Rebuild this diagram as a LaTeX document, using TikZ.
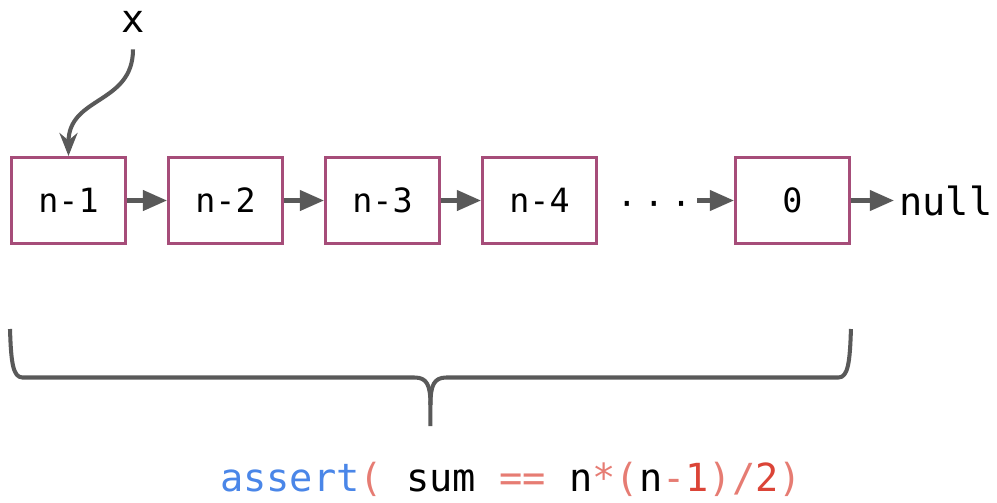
\documentclass[tikz,border=0pt]{standalone}
\usepackage{fontspec}
\setmonofont{DejaVu Sans Mono}
\usetikzlibrary{arrows.meta,positioning,calc}
\definecolor{plum}{HTML}{A64D79}
\definecolor{arrowgray}{HTML}{595959}
\definecolor{codeblue}{HTML}{4A86E8}
\definecolor{salmon}{HTML}{E67C73}
\definecolor{codered}{HTML}{DB4437}
\tikzset{
  listnode/.style={
    draw=plum,
    line width=1.7pt,
    minimum width=2.28cm,
    minimum height=1.72cm,
    inner sep=0pt,
    font=\ttfamily\fontsize{19}{19}\selectfont
  },
  codetext/.style={font=\ttfamily\fontsize{22}{22}\selectfont},
  dotstext/.style={font=\ttfamily\fontsize{19}{19}\selectfont,inner sep=0pt,outer xsep=3.5pt},
  nextarrow/.style={-{Triangle[length=0.48cm,width=0.4cm]},line width=2.3pt,draw=arrowgray},
  ptrarrow/.style={-{Stealth[length=0.46cm,width=0.36cm]},line width=2.3pt,draw=arrowgray},
  bracepath/.style={line width=2.3pt,draw=arrowgray,line join=round}
}
\begin{document}
\begin{tikzpicture}[node distance=0.8cm]
\useasboundingbox (0,0) rectangle (19.94,-10.04);
% list of nodes
\node[listnode] (n1) at (1.37,-4.01) {n-1};
\node[listnode,right=of n1] (n2) {n-2};
\node[listnode,right=of n2] (n3) {n-3};
\node[listnode,right=of n3] (n4) {n-4};
\node[dotstext,anchor=base] (dots) at ($(n4.base east)+(1.12,-0.06)$) {·\kern4pt·\kern4pt·};
\node[listnode,right=2.72cm of n4] (n0) {0};
\node[codetext,right=0.86cm of n0,inner sep=0.1cm] (null) {null};
\node[codetext,inner xsep=0.1cm,inner ysep=0.33cm] (x) at (2.66,-0.44) {x};
\draw[nextarrow] (n1) -- (n2);
\draw[nextarrow] (n2) -- (n3);
\draw[nextarrow] (n3) -- (n4);
\draw[nextarrow] (dots.east |- n0.west) -- (n0.west);
\draw[nextarrow] (n0) -- (null);
\draw[ptrarrow] (x.south) .. controls +(0,-1.1) and +(0,1.2) .. (n1.north);
% brace under the list
\coordinate (brL) at ($(n1.west)+(0,-2.57)$);
\coordinate (brR) at ($(n0.east)+(0,-2.57)$);
\coordinate (brTip) at ($(brL)!0.5!(brR)+(0,-1.94)$);
\draw[bracepath] (brL) .. controls +(0.02,-0.67) and +(-0.19,0) .. ++(0.25,-0.97)
  -- ($(brTip)+(-0.32,1.94-0.97)$) .. controls +(0.25,0) and +(0,0.4) .. ($(brTip)+(0,0.42)$)
  -- (brTip);
\draw[bracepath] (brR) .. controls +(-0.02,-0.67) and +(0.19,0) .. ++(-0.25,-0.97)
  -- ($(brTip)+(0.32,1.94-0.97)$) .. controls +(-0.25,0) and +(0,0.4) .. ($(brTip)+(0,0.42)$);
\node[codetext,anchor=base] (check) at (10.22,-9.82) {{\color{codeblue}assert}{\color{salmon}(} sum {\color{salmon}==} n{\color{salmon}*(}n{\color{salmon}-}{\color{codered}1}{\color{salmon})/}{\color{codered}2}{\color{salmon})}};
\end{tikzpicture}
\end{document}
